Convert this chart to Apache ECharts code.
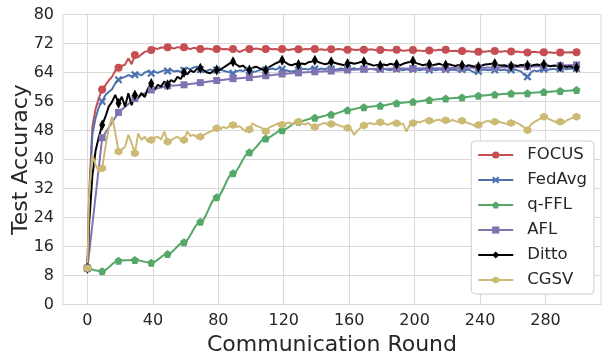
<!DOCTYPE html>
<html>
<head>
<meta charset="utf-8">
<script src="https://cdn.jsdelivr.net/npm/echarts@6/dist/echarts.min.js"></script>
<style>
  html, body { margin: 0; padding: 0; background: #fff; }
  #chart { width: 602px; height: 356px; }
</style>
</head>
<body>
<div id="chart"></div>
<script>
// rounds where the noisy runs are sampled (every 2nd round)
const rounds = [
  0, 1, 3, 5, 7, 9, 11, 13, 15, 17,
  19, 21, 23, 25, 27, 29, 31, 33, 35, 37,
  39, 41, 43, 45, 47, 49, 51, 53, 55, 57,
  59, 61, 63, 65, 67, 69, 71, 73, 75, 77,
  79, 81, 83, 85, 87, 89, 91, 93, 95, 97,
  99, 101, 103, 105, 107, 109, 111, 113, 115, 117,
  119, 121, 123, 125, 127, 129, 131, 133, 135, 137,
  139, 141, 143, 145, 147, 149, 151, 153, 155, 157,
  159, 161, 163, 165, 167, 169, 171, 173, 175, 177,
  179, 181, 183, 185, 187, 189, 191, 193, 195, 197,
  199, 201, 203, 205, 207, 209, 211, 213, 215, 217,
  219, 221, 223, 225, 227, 229, 231, 233, 235, 237,
  239, 241, 243, 245, 247, 249, 251, 253, 255, 257,
  259, 261, 263, 265, 267, 269, 271, 273, 275, 277,
  279, 281, 283, 285, 287, 289, 291, 293, 295, 297,
  299
];
// rounds that carry a marker
const markRounds = [0, 9, 19, 29, 39, 49, 59, 69, 79, 89, 99, 109, 119, 129, 139, 149,
  159, 169, 179, 189, 199, 209, 219, 229, 239, 249, 259, 269, 279, 289, 299];
const xTicks = [0, 40, 80, 120, 160, 200, 240, 280];

const focus = [
  10, 30, 49, 54, 57, 59.3, 60.5, 61.8, 62.8, 64.5,
  65.3, 65.8, 66.2, 67.9, 66.3, 68.8, 68.2, 69.0, 69.7, 69.9,
  70.2, 70.7, 70.5, 70.9, 70.8, 71.0, 70.8, 70.6, 71.0, 70.8,
  71.0, 70.7, 70.5, 70.8, 70.6, 70.5, 70.4, 70.6, 70.5, 70.3,
  70.5, 70.6, 70.4, 70.5, 70.3, 70.5, 70.2, 69.6, 70.1, 70.4,
  70.5, 70.4, 70.6, 70.5, 70.3, 70.5, 70.6, 70.4, 70.5, 70.3,
  70.5, 70.4, 70.2, 70.4, 70.5, 70.4, 70.3, 70.5, 70.4, 70.6,
  70.5, 70.3, 70.4, 70.2, 70.4, 70.4, 70.3, 70.5, 70.4, 70.2,
  70.3, 70.4, 70.3, 70.2, 70.4, 70.3, 70.2, 70.4, 70.3, 70.1,
  70.2, 70.3, 70.2, 70.1, 70.2, 70.3, 70.2, 70.0, 70.1, 70.2,
  70.2, 70.0, 70.1, 69.9, 70.0, 70.1, 70.2, 70.1, 70.3, 70.2,
  70.3, 70.0, 69.9, 70.0, 69.8, 69.9, 69.8, 69.9, 69.7, 69.8,
  69.7, 69.8, 69.7, 69.9, 69.8, 69.9, 69.8, 69.7, 69.9, 69.8,
  69.8, 69.7, 69.8, 69.6, 69.7, 69.5, 69.6, 69.7, 69.6, 69.5,
  69.6, 69.5, 69.6, 69.4, 69.5, 69.5, 69.6, 69.5, 69.6, 69.5,
  69.6
];
const fedavg = [
  10, 28, 47, 51.5, 54.5, 56.0, 57.8, 58.6, 59.4, 61.0,
  62.0, 62.5, 62.8, 63.3, 62.9, 63.4, 63.6, 63.2, 64.0, 64.3,
  63.8, 64.2, 63.9, 64.3, 64.6, 64.4, 64.7, 64.3, 64.5, 64.2,
  64.6, 65.2, 64.9, 65.4, 65.6, 64.8, 64.2, 64.5, 64.8, 64.6,
  64.7, 64.9, 64.5, 64.3, 64.0, 63.8, 64.3, 64.6, 64.4, 64.7,
  64.5, 64.2, 64.3, 64.6, 64.8, 64.7, 64.9, 65.1, 64.8, 65.2,
  64.9, 64.6, 64.4, 64.2, 64.5, 64.7, 64.9, 65.0, 64.8, 65.2,
  65.0, 64.8, 65.1, 64.9, 65.2, 65.0, 64.8, 64.9, 65.1, 64.9,
  65.2, 65.0, 65.2, 64.9, 65.1, 65.0, 64.8, 65.0, 64.9, 64.7,
  64.9, 65.0, 64.8, 64.6, 64.9, 65.0, 64.8, 64.6, 64.9, 64.7,
  64.9, 64.8, 64.6, 64.8, 64.9, 64.7, 64.8, 64.6, 64.9, 64.7,
  64.8, 64.6, 64.8, 64.7, 64.5, 64.8, 64.6, 64.8, 64.4, 63.9,
  64.3, 64.7, 64.8, 64.6, 64.8, 64.7, 64.9, 64.6, 64.8, 64.5,
  64.7, 64.8, 64.6, 64.3, 63.4, 62.8, 64.0, 64.6, 64.3, 64.7,
  64.9, 64.7, 64.9, 65.0, 64.8, 65.0, 65.1, 64.9, 65.1, 65.0,
  65.1
];
const ditto = [
  10, 22, 35.5, 42.5, 46.3, 49.5, 51.8, 54.6, 55.9, 57.8,
  55.5, 57.3, 54.6, 58.3, 55.0, 57.8, 56.9, 58.3, 57.2, 59.6,
  61.0, 59.2, 60.6, 60.1, 61.5, 60.6, 61.9, 61.4, 62.8, 62.2,
  64.0, 63.5, 64.6, 64.1, 65.0, 65.2, 64.6, 64.0, 63.8, 64.3,
  64.7, 64.7, 65.3, 65.9, 66.5, 67.0, 66.2, 65.6, 65.9, 65.1,
  64.7, 65.3, 65.6, 65.2, 64.9, 64.7, 65.5, 66.0, 66.5, 66.9,
  67.4, 66.8, 66.2, 66.0, 66.4, 66.2, 66.5, 66.3, 66.8, 67.0,
  67.4, 66.9, 66.6, 66.3, 66.5, 67.0, 66.7, 66.4, 66.2, 66.0,
  66.5, 66.7, 66.4, 66.6, 66.9, 67.0, 66.5, 66.2, 65.9, 66.1,
  65.9, 66.2, 66.0, 66.4, 66.2, 66.3, 66.0, 66.4, 66.7, 66.9,
  67.2, 66.6, 66.3, 66.0, 66.2, 66.3, 66.0, 66.2, 66.4, 66.1,
  66.1, 66.3, 66.0, 65.8, 66.1, 66.0, 65.7, 66.0, 65.8, 65.6,
  65.6, 65.9, 66.2, 66.3, 66.4, 66.5, 66.1, 65.9, 66.0, 65.7,
  65.8, 66.0, 65.8, 66.1, 66.0, 66.0, 65.8, 66.1, 66.2, 66.0,
  66.3, 66.0, 65.7, 65.9, 65.8, 65.6, 65.8, 65.5, 65.7, 65.4,
  65.3
];
const cgsv = [
  10, 30, 41.2, 38.5, 36.6, 37.6, 43.5, 48.5, 51.8, 47.5,
  42.2, 42.8, 43.5, 46.8, 44.5, 41.7, 47.2, 45.4, 46.3, 44.8,
  45.4, 46.0, 46.3, 45.5, 47.7, 44.9, 45.3, 45.8, 46.3, 45.6,
  45.4, 47.7, 46.5, 46.8, 46.0, 46.3, 46.8, 47.2, 47.7, 48.0,
  48.6, 48.2, 49.0, 48.6, 49.3, 49.5, 49.0, 49.2, 48.4, 47.7,
  48.3, 50.0, 49.3, 49.0, 48.6, 47.7, 48.8, 49.2, 49.6, 50.0,
  49.6, 49.9, 50.2, 49.8, 50.4, 50.4, 50.0, 49.6, 50.1, 49.3,
  49.0, 49.4, 49.8, 50.1, 49.6, 49.8, 50.0, 49.5, 49.2, 49.0,
  48.7, 48.4, 46.8, 47.9, 48.8, 49.4, 49.8, 50.1, 49.7, 50.0,
  50.3, 50.0, 49.6, 49.8, 50.2, 50.0, 49.7, 49.9, 47.7, 49.6,
  50.1, 50.4, 50.2, 50.6, 50.9, 50.7, 50.5, 50.8, 51.0, 50.6,
  50.8, 50.4, 50.9, 50.6, 50.3, 50.7, 50.4, 50.0, 49.7, 49.3,
  49.5, 50.0, 50.4, 50.7, 50.2, 50.4, 50.6, 50.2, 50.0, 49.7,
  50.1, 50.4, 50.0, 49.5, 48.9, 48.1, 49.6, 50.3, 50.8, 51.3,
  51.8, 51.4, 51.0, 50.6, 50.2, 50.4, 50.0, 50.8, 51.2, 51.5,
  51.8
];
// q-FFL and AFL are only logged at the marker rounds
const qffl = [10, 9.2, 12.1, 12.3, 11.5, 13.9, 17.2, 22.8, 29.6, 36.2, 42.0, 45.8, 48.1, 50.4,
  51.5, 52.4, 53.6, 54.4, 54.8, 55.5, 55.9, 56.4, 56.8, 57.1, 57.6, 57.9, 58.2, 58.3, 58.6, 58.9, 59.2];
const afl = [10, 46.0, 53.0, 56.8, 59.2, 60.3, 60.6, 61.2, 61.8, 62.3, 62.6, 63.1, 63.6, 63.9,
  64.2, 64.4, 64.7, 64.9, 65.0, 65.1, 65.1, 65.2, 65.2, 65.3, 65.3, 65.4, 65.5, 65.6, 65.7, 65.9, 66.1];

const TEXT = "#262626";
const GRID = "#d9d9d9";
const FONT = "DejaVu Sans";

const X_PATH = "path://M2,0 L5,3 L8,0 L10,2 L7,5 L10,8 L8,10 L5,7 L2,10 L0,8 L3,5 L0,2 Z";
const PENT_PATH = "path://M50,0 L97.6,34.5 L79.4,90.5 L20.6,90.5 L2.4,34.5 Z";
const HEX_PATH = "path://M50,0 L93.3,25 L93.3,75 L50,100 L6.7,75 L6.7,25 Z";

function pts(xs, ys) {
  return ys.map((y, i) => {
    const item = { value: [xs[i], y] };
    if (!markRounds.includes(xs[i])) item.symbol = "none";
    return item;
  });
}

function line(name, color, data, symbol, size, extra) {
  return Object.assign({
    name,
    type: "line",
    data,
    color,
    symbol,
    symbolSize: size,
    symbolKeepAspect: false,
    showAllSymbol: true,
    lineStyle: { color, width: 2 },
    itemStyle: { color, borderWidth: 0 },
    emphasis: { disabled: true },
  }, extra || {});
}

const chart = echarts.init(document.getElementById("chart"));
chart.setOption({
  animation: false,
  backgroundColor: "#ffffff",
  textStyle: { fontFamily: FONT, color: TEXT },
  grid: {
    left: 63, right: 1, top: 14.5, bottom: 51.5,
    outerBoundsMode: "none",
    show: true, borderColor: GRID, borderWidth: 1,
  },
  legend: {
    data: ["FOCUS", "FedAvg", "q-FFL", "AFL", "Ditto", "CGSV"],
    orient: "vertical",
    right: 8,
    top: 141,
    padding: [5, 7, 5, 6],
    itemGap: 7,
    itemWidth: 35,
    itemHeight: 9,
    backgroundColor: "#ffffff",
    borderColor: "#cccccc",
    borderWidth: 1,
    borderRadius: 4,
    textStyle: {
      fontFamily: FONT, fontSize: 16.5, color: TEXT,
      lineHeight: 18, padding: [0, 0, 0, 9],
    },
  },
  xAxis: {
    type: "value",
    min: -14.95,
    max: 313.95,
    name: "Communication Round",
    nameLocation: "middle",
    nameGap: 30,
    nameMoveOverlap: false,
    nameTextStyle: { fontFamily: FONT, fontSize: 22, color: TEXT },
    axisLine: { show: true, lineStyle: { color: GRID, width: 1 } },
    axisTick: { show: false, customValues: xTicks },
    axisLabel: { customValues: xTicks, fontFamily: FONT, fontSize: 16, color: TEXT, margin: 8 },
    splitLine: { show: true, lineStyle: { color: GRID, width: 1 } },
  },
  yAxis: {
    type: "value",
    min: 0,
    max: 80,
    interval: 8,
    name: "Test Accuracy",
    nameLocation: "middle",
    nameGap: 31,
    nameMoveOverlap: false,
    nameTextStyle: { fontFamily: FONT, fontSize: 22, color: TEXT },
    axisLine: { show: true, lineStyle: { color: GRID, width: 1 } },
    axisTick: { show: false },
    axisLabel: { fontFamily: FONT, fontSize: 16, color: TEXT, margin: 9 },
    splitLine: { show: true, lineStyle: { color: GRID, width: 1 } },
  },
  series: [
    line("FOCUS", "#C44E52", pts(rounds, focus), "circle", 8),
    line("FedAvg", "#4C72B0", pts(rounds, fedavg), X_PATH, 8),
    line("q-FFL", "#55A868", pts(markRounds, qffl), PENT_PATH, 8, { smooth: 0.35, smoothMonotone: "x" }),
    line("AFL", "#8172B2", pts(markRounds, afl), "rect", 7),
    line("Ditto", "#000000", pts(rounds, ditto), "diamond", [6, 11]),
    line("CGSV", "#CCB974", pts(rounds, cgsv), HEX_PATH, 8),
  ],
});
</script>
</body>
</html>
